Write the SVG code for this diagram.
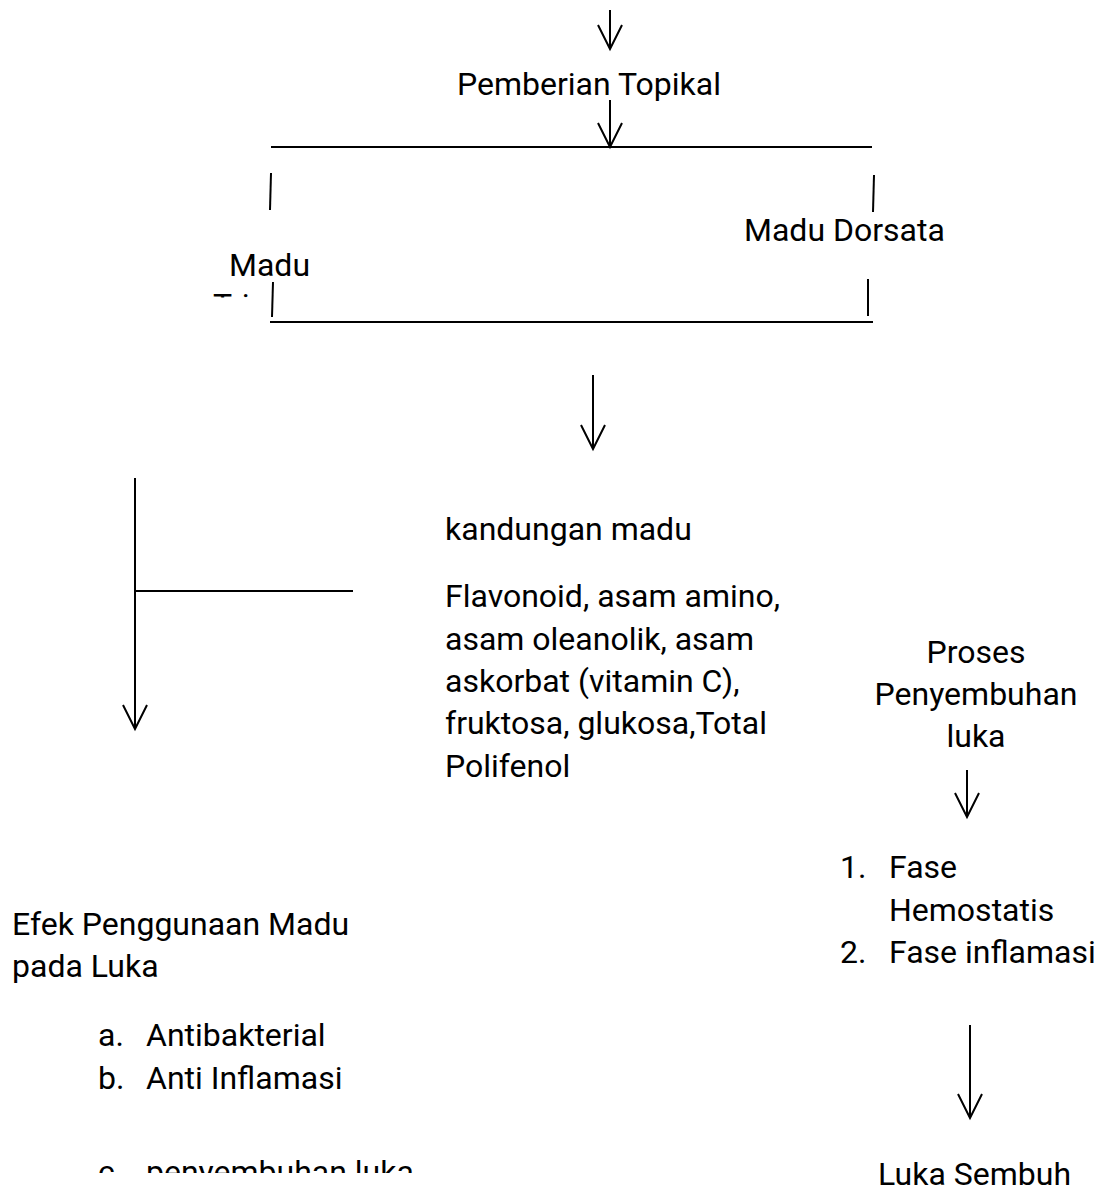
<svg xmlns="http://www.w3.org/2000/svg" width="1107" height="1192" viewBox="0 0 1107 1192">
<style>
text{font-family:Roboto,"Liberation Sans",sans-serif;font-size:32px;fill:#000}
.ln{stroke:#000;stroke-width:2;fill:none}
</style>
<defs>
<marker id="ah" markerUnits="userSpaceOnUse" viewBox="-27 -15 30 30" refX="0" refY="0" markerWidth="30" markerHeight="30" orient="auto">
<path d="M-24,-12 L0,0 L-24,12" fill="none" stroke="#000" stroke-width="2"/>
</marker>
<clipPath id="clipMadu"><rect x="150" y="240" width="200" height="57.5"/></clipPath>
<clipPath id="clipList"><rect x="0" y="880" width="500" height="293"/></clipPath>
</defs>
<rect width="1107" height="1192" fill="#fff"/>
<g id="connectors" class="ln">
<line x1="610" y1="10" x2="610" y2="49" marker-end="url(#ah)"/>
<line x1="610" y1="100" x2="610" y2="147" marker-end="url(#ah)"/>
<line x1="271" y1="147" x2="872" y2="147"/>
<line x1="271" y1="173" x2="270" y2="210"/>
<line x1="874" y1="175" x2="873" y2="212"/>
<line x1="273" y1="282" x2="272" y2="317"/>
<line x1="868" y1="279" x2="868" y2="316"/>
<line x1="270" y1="322" x2="873" y2="322"/>
<line x1="593" y1="375" x2="593" y2="449" marker-end="url(#ah)"/>
<line x1="135" y1="478" x2="135" y2="729" marker-end="url(#ah)"/>
<line x1="135" y1="591" x2="353" y2="591"/>
<line x1="967" y1="770" x2="967" y2="817" marker-end="url(#ah)"/>
<line x1="970" y1="1025" x2="970" y2="1118" marker-end="url(#ah)"/>
</g>
<g id="n-topikal"><text x="457" y="95">Pemberian Topikal</text></g>
<g id="n-madu-trigona" clip-path="url(#clipMadu)">
<text x="229" y="276">Madu</text>
<text x="213" y="316">Trigona</text>
</g>
<g id="n-madu-dorsata"><text x="744" y="241">Madu Dorsata</text></g>
<g id="n-kandungan">
<text x="445" y="540">kandungan madu</text>
<text x="445" y="607">Flavonoid, asam amino,</text>
<text x="445" y="650">asam oleanolik, asam</text>
<text x="445" y="692">askorbat (vitamin C),</text>
<text x="445" y="734">fruktosa, glukosa,Total</text>
<text x="445" y="777">Polifenol</text>
</g>
<g id="n-proses">
<text x="976" y="663" text-anchor="middle">Proses</text>
<text x="976" y="705" text-anchor="middle">Penyembuhan</text>
<text x="976" y="747" text-anchor="middle">luka</text>
</g>
<g id="n-fase">
<text x="840" y="878">1.</text>
<text x="889" y="878">Fase</text>
<text x="889" y="921">Hemostatis</text>
<text x="840" y="963">2.</text>
<text x="889" y="963">Fase inflamasi</text>
</g>
<g id="n-sembuh"><text x="878" y="1185">Luka Sembuh</text></g>
<g id="n-efek" clip-path="url(#clipList)">
<text x="12" y="935">Efek Penggunaan Madu</text>
<text x="12" y="977">pada Luka</text>
<text x="98" y="1046">a.</text>
<text x="146" y="1046">Antibakterial</text>
<text x="98" y="1089">b.</text>
<text x="146" y="1089">Anti Inflamasi</text>
<text x="98" y="1183">c.</text>
<text x="146" y="1183">penyembuhan luka</text>
</g>
</svg>
